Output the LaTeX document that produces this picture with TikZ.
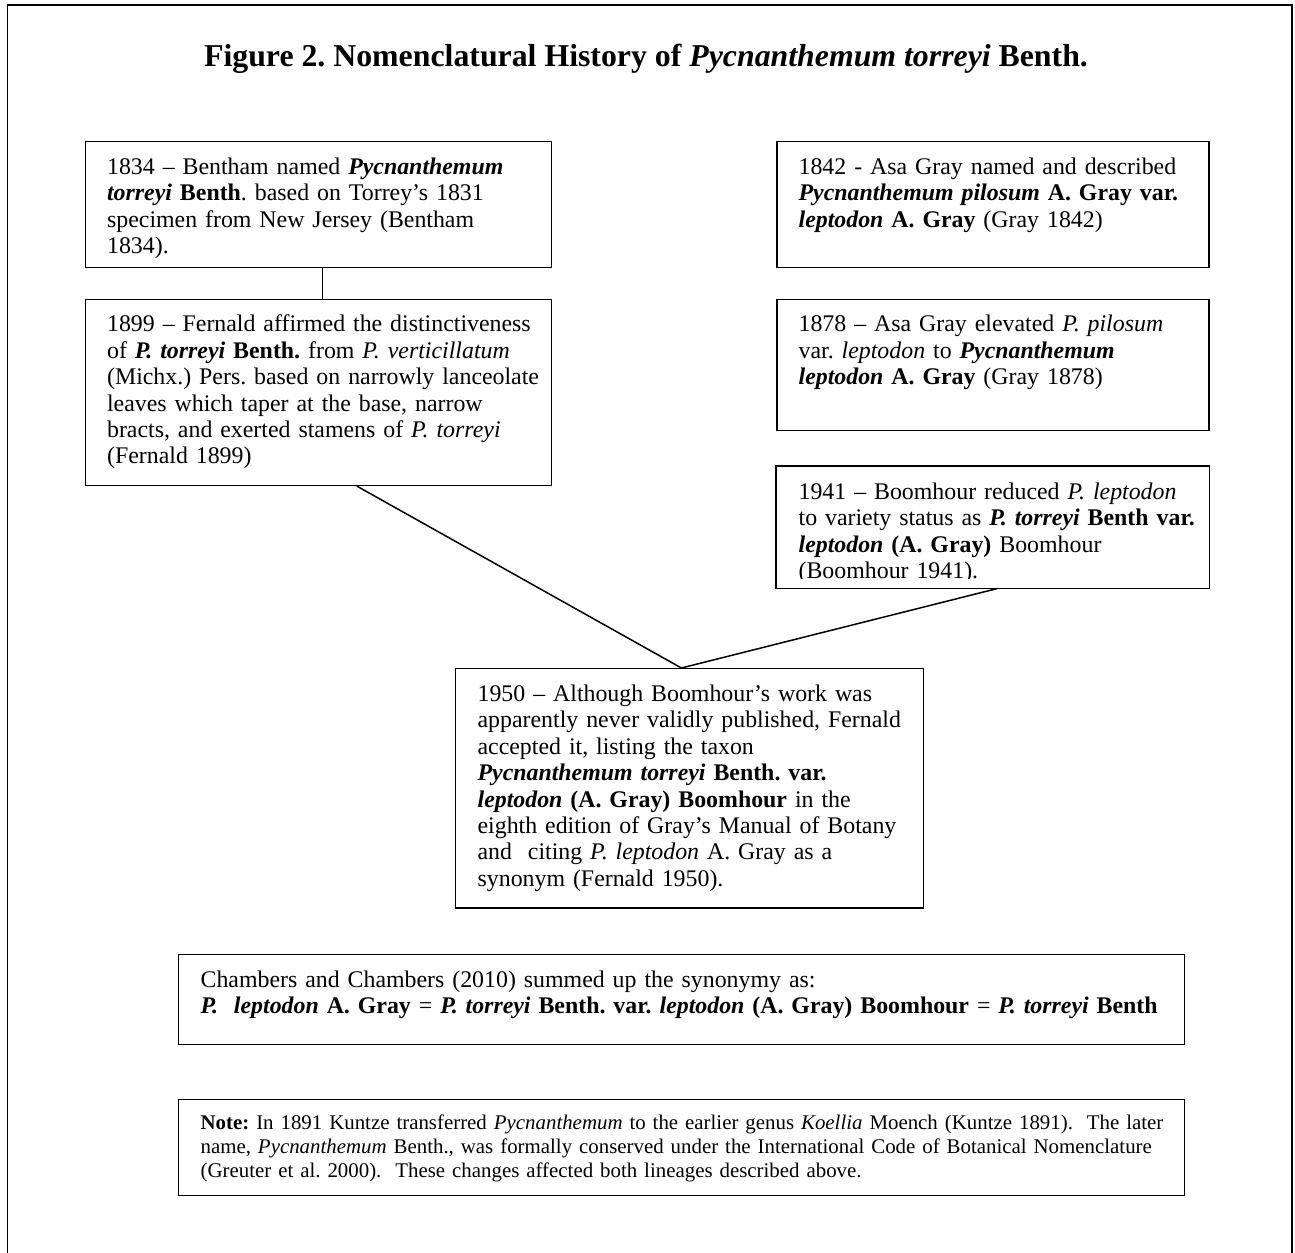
\documentclass[tikz,border=0pt]{standalone}
\usepackage{fontspec}
\setmainfont{Liberation Serif}
\usepackage{tikz}
\usetikzlibrary{positioning}

\begin{document}
\frenchspacing
\begin{tikzpicture}[x=0.503pt,y=-0.503pt,
  entry/.style 2 args={draw,line width=0.75pt,anchor=north west,
              inner xsep=11pt,inner ysep=6.7pt,text height=9.66pt,
              text width=#1,text depth=#2,
              font=\fontsize{12}{13.3}\selectfont,
              execute at begin node={\rightskip=-15pt plus 1fil\relax}},
  link/.style={line width=0.75pt}]
  \useasboundingbox (0,0) rectangle (1295,1253);
  \draw[line width=1pt] (7.5,1270) -- (7.5,5) -- (1292,5) -- (1292,1270);
  \node[anchor=base,font=\fontsize{16}{19}\selectfont\bfseries] (title) at (646,67)
    {Figure 2. Nomenclatural History of \textit{Pycnanthemum torreyi} Benth.};
  \node[entry={212.65pt}{40.32pt}] (b1834) at (84.5,141)
    {1834 -- Bentham named \textbf{\textit{Pycnanthemum}}\\
     \textbf{\textit{torreyi} Benth}. based on Torrey's 1831\\
     specimen from New Jersey (Bentham\\
     1834).};
  \node[entry={212.65pt}{70.5pt},below=15.1pt of b1834] (b1899)
    {1899 -- Fernald affirmed the distinctiveness\\
     of \textbf{\textit{P. torreyi} Benth.} from \textit{P. verticillatum}\\
     (Michx.) Pers. based on narrowly lanceolate\\
     leaves which taper at the base, narrow\\
     bracts, and exerted stamens of \textit{P. torreyi}\\
     (Fernald 1899)};
  \node[entry={195.3pt}{40.32pt}] (b1842) at (776,141)
    {1842 - Asa Gray named and described\\
     \textbf{\textit{Pycnanthemum pilosum} A. Gray var.}\\
     \textbf{\textit{leptodon} A. Gray} (Gray 1842)};
  \node[entry={195.3pt}{42.83pt},below=15.1pt of b1842] (b1878)
    {1878 -- Asa Gray elevated \textit{P. pilosum}\\
     var. \textit{leptodon} to \textbf{\textit{Pycnanthemum}}\\
     \textbf{\textit{leptodon} A. Gray} (Gray 1878)};
  \begin{scope}
    \clip (770,455) rectangle (1215,578);
    \node[entry={195.3pt}{37.8pt},draw=none,below=17.6pt of b1878] (b1941)
      {1941 -- Boomhour reduced \textit{P. leptodon}\\
       to variety status as \textbf{\textit{P. torreyi} Benth var.}\\
       \textbf{\textit{leptodon} (A. Gray)} Boomhour\\
       (Boomhour 1941).};
  \end{scope}
  \draw[link] (b1941.north west) rectangle (b1941.south east);
  \node[entry={213.4pt}{97.16pt}] (b1950) at (455,668)
    {1950 -- Although Boomhour's work was\\
     apparently never validly published, Fernald\\
     accepted it, listing the taxon\\
     \textbf{\textit{Pycnanthemum torreyi} Benth. var.}\\
     \textbf{\textit{leptodon} (A. Gray) Boomhour} in the\\
     eighth edition of Gray's Manual of Botany\\
     and\ \ citing \textit{P. leptodon} A. Gray as a\\
     synonym (Fernald 1950).};
  \node[entry={484pt}{22.2pt}] (chamb) at (178,954)
    {Chambers and Chambers (2010) summed up the synonymy as:\\
     \textbf{\textit{P.}\ \ \textit{leptodon} A. Gray} = \textbf{\textit{P. torreyi} Benth. var. \textit{leptodon} (A. Gray) Boomhour} = \textbf{\textit{P. torreyi} Benth}};
  \node[entry={484pt}{26.64pt},text height=8.25pt,
        font=\fontsize{10.5}{12.1}\selectfont,below=26.7pt of chamb] (note)
    {\textbf{Note:} In 1891 Kuntze transferred \textit{Pycnanthemum} to the earlier genus \textit{Koellia} Moench (Kuntze 1891).\ \ The later\\
     name, \textit{Pycnanthemum} Benth., was formally conserved under the International Code of Botanical Nomenclature\\
     (Greuter et al. 2000).\ \ These changes affected both lineages described above.};
  \draw[link] ([xshift=1.9pt]b1834.south) -- ([xshift=1.9pt]b1899.north);
  \draw[link] ([xshift=19.2pt]b1899.south) -- ([xshift=-4.2pt]b1950.north);
  \draw[link] ([xshift=2.4pt]b1941.south) -- ([xshift=-4.2pt]b1950.north);
\end{tikzpicture}
\end{document}
